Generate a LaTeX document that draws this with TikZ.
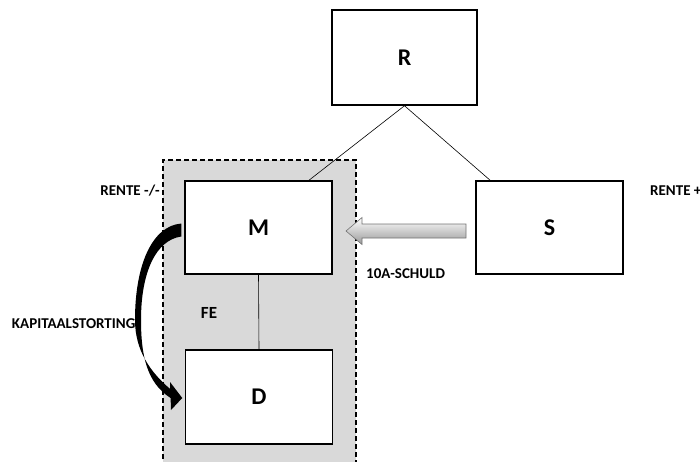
\documentclass[tikz,border=0pt]{standalone}
\usepackage{fontspec}
\setmainfont{Carlito}
\usetikzlibrary{calc}
\begin{document}
\begin{tikzpicture}[x=1pt,y=-1pt,
  entity/.style={draw=black,line width=1.5pt,fill=white,minimum width=147pt,minimum height=93pt,inner sep=0pt,font=\fontsize{24}{26}\selectfont\bfseries},
  label/.style={font=\fontsize{15}{17}\selectfont\bfseries,inner sep=0pt},
  link/.style={draw=black,line width=0.6pt},
  group/.style={draw=black,line width=1.3pt,dash pattern=on 5pt off 3pt,fill=black!15,inner sep=0pt}]
\useasboundingbox (0,0) rectangle (700,462);
% fiscal unity group (open towards the bottom edge)
\path[group] (163,475) -- (163,160) -- (356,160) -- (356,475);
% entities
\node[entity,minimum width=145pt,minimum height=95pt] (R) at (404.5,57.5) {R};
\node[entity] (M) at (258.5,227.5) {M};
\node[entity] (S) at (549.5,227.5) {S};
\node[entity,minimum height=94pt] (D) at (259,397) {D};
% ownership links
\draw[link] (R.south) -- ($(M.north west)!0.84!(M.north east)$);
\draw[link] (R.south) -- ($(S.north west)!0.10!(S.north east)$);
\draw[link] (M.south) -- (D.north);
% loan arrow S -> M
\coordinate (tip) at (346,231);
\shade[top color=white,bottom color=black!40,draw=black!55,line width=0.6pt]
  (tip) -- (362,217.5) -- (362,224) -- (466,224) -- (466,238) -- (362,238) -- (362,244.5) -- cycle;
% capital contribution arrow M -> D (tapered curved arrow)
\coordinate (kapStart) at ($(M.west)+(-3,-4)$);
\coordinate (kapTip) at ($(D.west)+(-2.5,1)$);
\fill[black] (kapStart) .. controls (152,226) and (135,265) .. (135,320)
  .. controls (135,350) and (150,372) .. (170.2,389)
  -- (170,382) -- (kapTip) -- (171,410) -- (170.6,398)
  .. controls (147,383) and (141,356) .. (141,320)
  .. controls (141,272) and (156,240) .. ($(kapStart)+(0,13)$) -- cycle;
% labels
\node[label,anchor=east] (rentemin) at (160,191) {RENTE -/-};
\node[label,anchor=west] (renteplus) at (650,191) {RENTE +};
\node[label,anchor=west] (schuld) at (366,274) {10A-SCHULD};
\node[label,anchor=east] (kap) at (135.5,324) {KAPITAALSTORTING};
\node[label,font=\fontsize{17}{19}\selectfont\bfseries] (fe) at (209,313) {FE};
\end{tikzpicture}
\end{document}
